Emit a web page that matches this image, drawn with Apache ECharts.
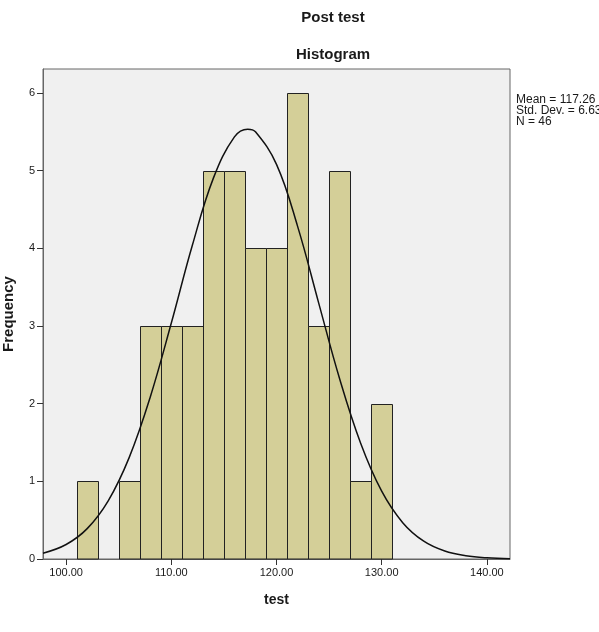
<!DOCTYPE html>
<html>
<head>
<meta charset="utf-8">
<script src="https://cdn.jsdelivr.net/npm/echarts@6/dist/echarts.min.js"></script>
<style>
  html, body { margin: 0; padding: 0; background: #fff; }
  #chart { width: 599px; height: 632px; }
</style>
</head>
<body>
<div id="chart"></div>
<script>
// histogram bins (width 2) and their counts
const binEdges = [101, 103, 105, 107, 109, 111, 113, 115, 117, 119, 121, 123, 125, 127, 129, 131]
const counts = [1, 0, 1, 3, 3, 3, 5, 5, 4, 4, 6, 3, 5, 1, 2]

// normal curve
const curveX = [97.8, 100, 102, 104, 106, 108, 110, 112, 114, 116, 117.26, 118, 120, 122, 124, 126, 128, 130, 132, 134, 136, 138, 140, 142.2]
const curveY = [0.075, 0.187, 0.391, 0.749, 1.309, 2.087, 3.039, 4.040, 4.905, 5.436, 5.535, 5.501, 5.082, 4.287, 3.302, 2.321, 1.491, 0.873, 0.468, 0.229, 0.102, 0.042, 0.015, 0.004]

const xTicks = [100, 110, 120, 130, 140]
const yTicks = [0, 1, 2, 3, 4, 5, 6]
const statsLines = ['Mean = 117.26', 'Std. Dev. = 6.63', 'N = 46']

const font = '"Liberation Sans", Arial, sans-serif'
const barFill = '#d4cf98'
const barStroke = '#222222'
const axisColor = '#666666'
const textColor = '#1a1a1a'

const chart = echarts.init(document.getElementById('chart'), null, { renderer: 'canvas' })

const histData = counts.map((c, i) => [binEdges[i], binEdges[i + 1], c])

chart.setOption({
  animation: false,
  textStyle: { fontFamily: font },
  grid: {
    left: 43,
    right: 89,
    top: 69,
    bottom: 73,
    outerBoundsMode: 'none',
    show: true,
    backgroundColor: '#f0f0f0',
    borderColor: axisColor,
    borderWidth: 1
  },
  graphic: [
    {
      type: 'text',
      style: { text: 'Post test', x: 333, y: 18, textAlign: 'center', textVerticalAlign: 'middle', font: 'bold 15px ' + font, fill: textColor }
    },
    {
      type: 'text',
      style: { text: 'Histogram', x: 333, y: 55, textAlign: 'center', textVerticalAlign: 'middle', font: 'bold 15px ' + font, fill: textColor }
    },
    {
      type: 'text',
      style: { text: statsLines.join('\n'), x: 516, y: 94, font: '12px ' + font, lineHeight: 11, fill: textColor }
    }
  ],
  xAxis: {
    type: 'value',
    min: 97.8,
    max: 142.2,
    name: 'test',
    nameLocation: 'middle',
    nameGap: 34,
    nameTextStyle: { fontSize: 14, fontWeight: 'bold', color: textColor },
    axisLine: { show: true, lineStyle: { color: axisColor } },
    axisTick: { show: true, length: 6, customValues: xTicks, lineStyle: { color: '#333' } },
    axisLabel: { customValues: xTicks, formatter: v => v.toFixed(2), fontSize: 11, color: textColor, margin: 8 },
    splitLine: { show: false }
  },
  yAxis: {
    type: 'value',
    min: 0,
    max: 6.31,
    name: 'Frequency',
    nameLocation: 'middle',
    nameGap: 27,
    nameTextStyle: { fontSize: 15, fontWeight: 'bold', color: textColor },
    axisLine: { show: true, lineStyle: { color: axisColor } },
    axisTick: { show: true, length: 6, customValues: yTicks, lineStyle: { color: '#333' } },
    axisLabel: { customValues: yTicks, fontSize: 11, color: textColor, margin: 8 },
    splitLine: { show: false }
  },
  series: [
    {
      type: 'custom',
      data: histData,
      encode: { x: [0, 1], y: 2 },
      renderItem: function (params, api) {
        const c = api.value(2)
        if (!c) return
        const p0 = api.coord([api.value(0), 0])
        const p1 = api.coord([api.value(1), c])
        const x0 = Math.round(p0[0]) + 0.5
        const x1 = Math.round(p1[0]) + 0.5
        const y1 = Math.round(p1[1]) + 0.5
        return {
          type: 'rect',
          shape: { x: x0, y: y1, width: x1 - x0, height: p0[1] - y1 },
          style: { fill: barFill, stroke: barStroke, lineWidth: 1 }
        }
      }
    },
    {
      type: 'line',
      data: curveX.map((x, i) => [x, curveY[i]]),
      smooth: 0.4,
      showSymbol: false,
      lineStyle: { color: '#111', width: 1.5 },
      z: 5
    }
  ]
})
</script>
</body>
</html>
